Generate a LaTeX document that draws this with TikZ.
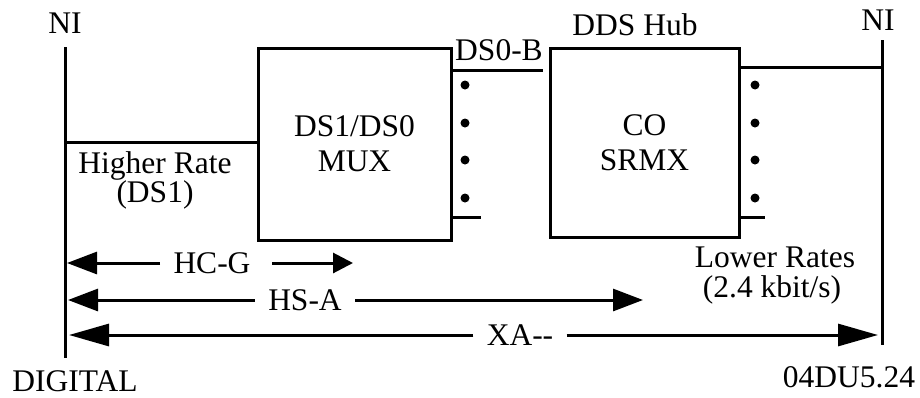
\documentclass[tikz,border=0pt]{standalone}
\usepackage{fontspec}
\setmainfont{Liberation Serif}
\usetikzlibrary{arrows.meta}
\begin{document}
\begin{tikzpicture}[x=1pt,y=-1pt, line width=3pt,
  txt/.style={font=\fontsize{31.5}{35}\selectfont, inner sep=0pt},
  lbl/.style={font=\fontsize{31.5}{35}\selectfont, inner xsep=12pt, inner ysep=0pt},
  boxnode/.style={draw, inner sep=0pt, font=\fontsize{31.5}{35}\selectfont, align=center},
  bigtip/.style={-{Triangle[length=30pt,width=22pt]}},
  longtip/.style={-{Triangle[length=40pt,width=22pt]}},
  smalltip/.style={-{Triangle[length=20pt,width=20pt]}},
  dotnode/.style={circle, fill, inner sep=0pt, minimum size=9pt}]
\useasboundingbox (0,0) rectangle (920,397);
% NI lines
\coordinate (lt) at (65,47); \coordinate (lb) at (65,358);
\coordinate (rt) at (882,40); \coordinate (rb) at (882,345);
\draw (lt) -- (lb);
\draw (rt) -- (rb);
\node[txt] (ni1) at (65,23) {NI};
\node[txt] (ni2) at (878,20) {NI};
% boxes
\node[boxnode, minimum width=193pt, minimum height=192pt] (mux) at (354.5,144) {DS1/DS0\\MUX};
\node[boxnode, minimum width=189pt, minimum height=189pt] (co) at (644.5,142.5) {CO\\SRMX};
% higher rate line
\coordinate (hr) at (65,142);
\draw (hr) -- (hr -| mux.west);
\node[txt] (hr1) at (155,166) {Higher Rate};
\node[txt] (hr2) at (155,195) {(DS1)};
% mux output bracket
\coordinate (b1) at (543,70);
\coordinate (b2) at (481,217);
\draw (b1 -| mux.east) -- (b1);
\draw (b2 -| mux.east) -- (b2);
\node[txt] (ds0b) at (499,50) {DS0-B};
\node[txt] (dds) at (635,25) {DDS Hub};
% co output bracket
\coordinate (c1) at (882,67);
\coordinate (c2) at (765,217);
\draw (c1 -| co.east) -- (c1);
\draw (c2 -| co.east) -- (c2);
% dots
\foreach \yy [count=\i] in {85,123,160,198} {
  \node[dotnode] (md\i) at (465,\yy) {};
  \node[dotnode] (cd\i) at (755,\yy) {};
}
\node[txt] (lr1) at (775,257) {Lower Rates};
\node[txt] (lr2) at (772,290) {(2.4 kbit/s)};
\node[txt] (dig) at (75,381) {DIGITAL};
\node[txt] (code) at (849,377) {04DU5.24};
% dimension arrows
\node[lbl] (hcg) at (212,263) {HC-G};
\coordinate (hcgL) at (67,263); \coordinate (hcgR) at (353,263);
\draw[bigtip] (hcg.west) -- (hcgL);
\draw[smalltip] ([xshift=8pt]hcg.east) -- (hcgR);
\node[lbl] (hsa) at (305,300) {HS-A};
\coordinate (hsaL) at (68,300); \coordinate (hsaR) at (643,300);
\draw[bigtip] (hsa.west) -- (hsaL);
\draw[bigtip] (hsa.east) -- (hsaR);
\node[lbl] (xa) at (520,335) {XA-{}-};
\coordinate (xaL) at (69,335); \coordinate (xaR) at (878,335);
\draw[longtip] (xa.west) -- (xaL);
\draw[longtip] (xa.east) -- (xaR);
\end{tikzpicture}
\end{document}
